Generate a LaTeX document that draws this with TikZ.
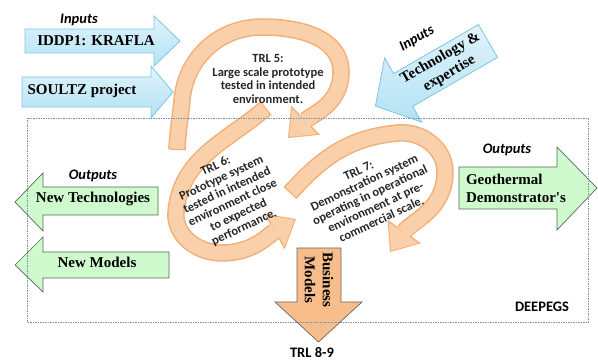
\documentclass[tikz,border=0pt]{standalone}
\usepackage{fontspec}
\setmainfont{Liberation Serif}
\newfontfamily\calib{Carlito}
\usetikzlibrary{arrows.meta, positioning}

\definecolor{inblue}{RGB}{178,226,244}
\definecolor{inblueline}{RGB}{125,198,226}
\definecolor{outgreen}{RGB}{206,250,206}
\definecolor{outline}{RGB}{85,105,85}
\definecolor{trlfill}{RGB}{250,208,170}
\definecolor{trlline}{RGB}{242,175,120}
\definecolor{bizfill}{RGB}{247,190,140}
\definecolor{boxline}{RGB}{125,145,178}

\begin{document}
\begin{tikzpicture}[x=1pt, y=1pt,
		inarrow/.style={draw=inblueline, line width=0.8pt, top color=inblue!40, bottom color=inblue},
		outarrow/.style={draw=outline, fill=outgreen, line width=0.7pt},
		bizarrow/.style={draw=black!60, fill=bizfill, line width=0.7pt},
		boxtext/.style={font=\fontsize{15}{18}\selectfont\bfseries, align=center, inner sep=0pt},
		captxt/.style={font=\calib\fontsize{14.5}{16}\selectfont\bfseries\itshape, inner sep=0pt},
		sanstxt/.style={font=\calib\fontsize{14.5}{16}\selectfont\bfseries, inner sep=0pt},
		trltext/.style={font=\calib\fontsize{12.5}{13.5}\selectfont\bfseries, align=center, inner sep=0pt, text=black!85},
		trledge/.style={draw=trlline, line width=17.5pt, -{Triangle[width=41pt, length=25pt, line width=0pt]}},
		trlbody/.style={draw=trlfill, line width=14.5pt, shorten >=1.6pt, shorten <=1.2pt, -{Triangle[width=36pt, length=22pt, line width=0pt]}},
		deepbox/.style={draw=boxline, line width=0.5pt, dash pattern=on 1.5pt off 1pt}
		]
		\useasboundingbox (0,0) rectangle (598,362);
		
		% TRL loops
		\foreach \sty in {trledge, trlbody}
		\draw[\sty] (177,212) to[out=88,in=-95] (182,262) to[out=85,in=180] (262,335) to[out=0,in=90] (341,290) to[out=-90,in=45] (288,224);
		\foreach \sty in {trledge, trlbody}
		\draw[\sty] (266,254) to[out=220,in=85] (176,150) to[out=-95,in=180] (222,109) to[out=0,in=210] (296,143);
		\foreach \sty in {trledge, trlbody}
		\draw[\sty] (290,169) to[out=48,in=185] (398,229) to[out=5,in=90] (445,190) to[out=-90,in=55] (390,110);
		
		\node[trltext] (trl5) at (268,283) {TRL 5:\\Large scale prototype\\tested in intended\\environment.};
		\node[trltext, rotate=25] (trl6) at (230,165) {TRL 6:\\Prototype system\\tested in intended\\environment close\\to expected\\performance.};
		\node[trltext, rotate=25] (trl7) at (370,167) {TRL 7:\\Demonstration system\\operating in operational\\environment at pre-\\commercial scale.};
		
		% inputs
		\draw[inarrow] (25,309) -- (154,309) -- (154,296) -- (180,321) -- (154,346) -- (154,333) -- (25,333) -- cycle;
		\draw[inarrow] (22,255) -- (151,255) -- (151,244) -- (173,270) -- (151,296) -- (151,285) -- (22,285) -- cycle;
		\begin{scope}[shift={(488,321)}, rotate=210]
			\draw[inarrow] (0,-19) -- (98,-19) -- (98,-37) -- (130,0) -- (98,37) -- (98,19) -- (0,19) -- cycle;
		\end{scope}
		\node[boxtext] (krafla) at (96,321) {IDDP1: KRAFLA};
		\node[boxtext] (soultz) at (82,271) {SOULTZ project};
		\node[boxtext, rotate=30] (techexp) at (445,296) {Technology \&\\expertise};
		\node[captxt] (inleft) at (79,342) {Inputs};
		\node[captxt, rotate=30] (inright) at (417,323) {Inputs};
		
		% outputs
		\draw[outarrow] (158,147) -- (43,147) -- (43,131) -- (15,160) -- (43,189) -- (43,175) -- (158,175) -- cycle;
		\draw[outarrow] (169,84) -- (43,84) -- (43,70) -- (15,97) -- (43,125) -- (43,110) -- (169,110) -- cycle;
		\draw[outarrow] (459,153) -- (557,153) -- (557,132) -- (597,174) -- (557,215) -- (557,195) -- (459,195) -- cycle;
		\node[boxtext] (newtech) at (93,163) {New Technologies};
		\node[boxtext] (newmod) at (97,100) {New Models};
		\node[boxtext, align=left] (geodemo) at (516,174) {Geothermal\\Demonstrator\textquotesingle s};
		\node[captxt] (outleft) at (93,186) {Outputs};
		\node[captxt] (outright) at (507,212) {Outputs};
		
		% business models
		\draw[bizarrow] (297,114) -- (297,60) -- (275,60) -- (318.5,20) -- (362,60) -- (341,60) -- (341,114) -- cycle;
		\node[boxtext, rotate=-90] (bizmod) at (319,82) {Business\\Models};
		\node[sanstxt] (trl89) at (312,9) {TRL 8-9};
		
		\draw[deepbox] (27,40) rectangle (588,244);
		\node[sanstxt] (deepegs) at (542,55) {DEEPEGS};
		
	\end{tikzpicture}
\end{document}
